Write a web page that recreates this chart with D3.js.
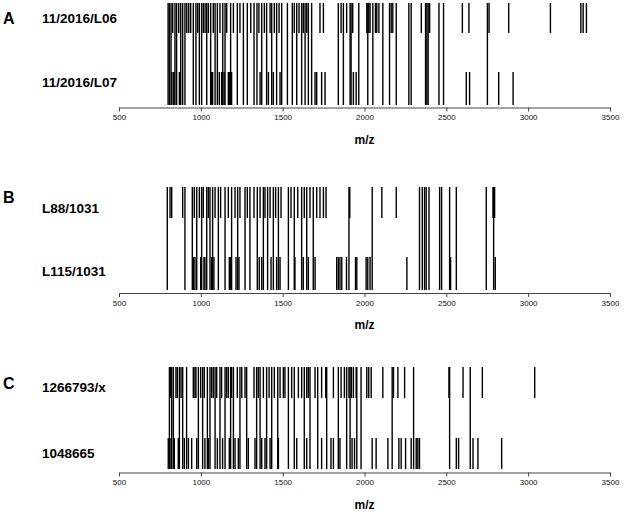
<!DOCTYPE html>
<html><head><meta charset="utf-8">
<script src="https://cdn.jsdelivr.net/npm/d3@7"></script>
<style>body{margin:0;background:#fff}svg{display:block}</style>
</head><body>
<svg id="chart" width="625" height="519"></svg>
<script>
// ---- data (m/z values) ----
const xDomain = [500, 3500];
const tickValues = [500, 1000, 1500, 2000, 2500, 3000, 3500];
const panelLetters = ["A", "B", "C"];
const topLabels = ["11/2016/L06", "L88/1031", "1266793/x"];
const bottomLabels = ["11/2016/L07", "L115/1031", "1048665"];
const axisTitle = "m/z";

// peaks present in both samples
const sharedA = [800, 808, 818, 842, 852, 877, 889, 903, 954, 970, 991, 1005, 1036, 1060, 1087, 1101, 1134, 1148, 1182, 1223, 1260, 1284, 1325, 1343, 1372, 1402, 1433, 1463, 1494, 1529, 1559, 1586, 1616, 1637, 1657, 1677, 1840, 1871, 1912, 1918, 1965, 2020, 2051, 2112, 2153, 2194, 2271, 2285, 2373, 2381, 2389, 2455, 2483, 2751];
const topOnlyA = [828, 865, 914, 926, 938, 981, 1015, 1026, 1046, 1076, 1117, 1158, 1199, 1239, 1305, 1355, 1388, 1423, 1449, 1478, 1571, 1600, 1626, 1647, 1728, 1749, 1857, 1891, 1928, 2014, 2026, 2034, 2067, 2075, 2088, 2163, 2173, 2347, 2398, 2598, 2638, 2761, 2881, 3136, 3322, 3336, 3356];
const bottomOnlyA = [822, 832, 836, 869, 1066, 1072, 1113, 1127, 1142, 1168, 1174, 1188, 1362, 1413, 1443, 1484, 1698, 1708, 1738, 1759, 1932, 1949, 2622, 2642, 2820, 2908];

const sharedB = [795, 903, 948, 975, 1005, 1036, 1056, 1072, 1107, 1148, 1188, 1225, 1270, 1300, 1345, 1382, 1408, 1443, 1474, 1535, 1571, 1616, 1647, 1687, 1905, 2047, 2336, 2353, 2367, 2377, 2394, 2459, 2471, 2520, 2561, 2744, 2789];
const topOnlyB = [812, 822, 889, 960, 991, 1015, 1046, 1087, 1121, 1168, 1209, 1239, 1284, 1325, 1362, 1392, 1423, 1457, 1490, 1551, 1592, 1632, 1667, 1708, 1728, 1749, 1765, 1910, 2106, 2194, 2785, 2795];
const bottomOnlyB = [954, 964, 999, 1019, 1025, 1066, 1080, 1174, 1182, 1215, 1233, 1357, 1372, 1429, 1463, 1484, 1575, 1626, 1657, 1698, 1830, 1840, 1850, 1861, 1890, 1945, 1953, 2010, 2020, 2034, 2259, 2526, 2799];

const sharedC = [808, 822, 832, 869, 889, 913, 985, 1011, 1040, 1056, 1087, 1117, 1148, 1182, 1199, 1239, 1280, 1341, 1362, 1402, 1433, 1470, 1535, 1571, 1632, 1667, 1714, 1769, 1840, 1891, 1912, 1953, 1979, 2169, 2300, 2520, 2646];
const topOnlyC = [816, 848, 856, 879, 954, 964, 970, 999, 1021, 1066, 1076, 1097, 1127, 1158, 1168, 1188, 1223, 1250, 1270, 1325, 1351, 1382, 1417, 1449, 1484, 1504, 1514, 1555, 1596, 1616, 1647, 1657, 1698, 1738, 1763, 1810, 1857, 1877, 1905, 1920, 1932, 1949, 2014, 2026, 2041, 2112, 2177, 2204, 2245, 2516, 2602, 2720, 3040];
const bottomOnlyC = [801, 812, 838, 862, 899, 924, 944, 975, 1025, 1046, 1101, 1133, 1174, 1209, 1229, 1290, 1331, 1372, 1392, 1423, 1474, 1586, 1647, 1738, 1795, 1810, 1850, 1924, 1939, 2047, 2071, 2143, 2210, 2224, 2251, 2285, 2316, 2326, 2336, 2561, 2575, 2663, 2693, 2838];

const sharedPeaks = [sharedA, sharedB, sharedC];
const topPeaks = [topOnlyA, topOnlyB, topOnlyC];
const bottomPeaks = [bottomOnlyA, bottomOnlyB, bottomOnlyC];

// ---- layout ----
const layout = [
  {top: 3, topEnd: 33, botStart: 72, bottom: 105, axis: 107.5, letterY: 18, topLabelY: 18, botLabelY: 82},
  {top: 187, topEnd: 218, botStart: 257, bottom: 290, axis: 293, letterY: 197, topLabelY: 208, botLabelY: 271},
  {top: 367, topEnd: 398, botStart: 438, bottom: 469, axis: 472.5, letterY: 383, topLabelY: 387, botLabelY: 453}
];

const svg = d3.select("#chart");
const x = d3.scaleLinear().domain(xDomain).range([119, 610]);
const font = "Liberation Sans, Arial, sans-serif";

layout.forEach((L, i) => {
  const g = svg.append("g");
  const lines = [
    ...sharedPeaks[i].map(v => ({v, y1: L.top, y2: L.bottom})),
    ...topPeaks[i].map(v => ({v, y1: L.top, y2: L.topEnd})),
    ...bottomPeaks[i].map(v => ({v, y1: L.botStart, y2: L.bottom}))
  ];
  g.selectAll("line.peak").data(lines).join("line")
    .attr("class", "peak")
    .attr("x1", d => x(d.v)).attr("x2", d => x(d.v))
    .attr("y1", d => d.y1).attr("y2", d => d.y2)
    .attr("stroke", "#000").attr("stroke-width", 1.4);

  const ax = g.append("g").attr("transform", `translate(0,${L.axis})`)
    .call(d3.axisBottom(x).tickValues(tickValues).tickFormat(d3.format("d"))
      .tickSize(4).tickSizeOuter(0).tickPadding(3));
  ax.select(".domain").attr("stroke", "#444");
  ax.selectAll(".tick line").attr("stroke", "#444");
  ax.selectAll(".tick text").attr("font-family", font)
    .attr("font-size", 8).attr("fill", "#111");

  g.append("text").attr("x", x(2000)).attr("y", L.axis + 36)
    .attr("text-anchor", "middle").attr("font-family", font)
    .attr("font-weight", "bold").attr("font-size", 12).text(axisTitle);

  g.append("text").attr("x", 3).attr("y", L.letterY).attr("dy", "0.36em")
    .attr("font-family", font).attr("font-weight", "bold")
    .attr("font-size", 16).text(panelLetters[i]);
  g.append("text").attr("x", 42).attr("y", L.topLabelY).attr("dy", "0.36em")
    .attr("font-family", font).attr("font-weight", "bold")
    .attr("font-size", 13.5).text(topLabels[i]);
  g.append("text").attr("x", 42).attr("y", L.botLabelY).attr("dy", "0.36em")
    .attr("font-family", font).attr("font-weight", "bold")
    .attr("font-size", 13.5).text(bottomLabels[i]);
});
</script>
</body></html>
